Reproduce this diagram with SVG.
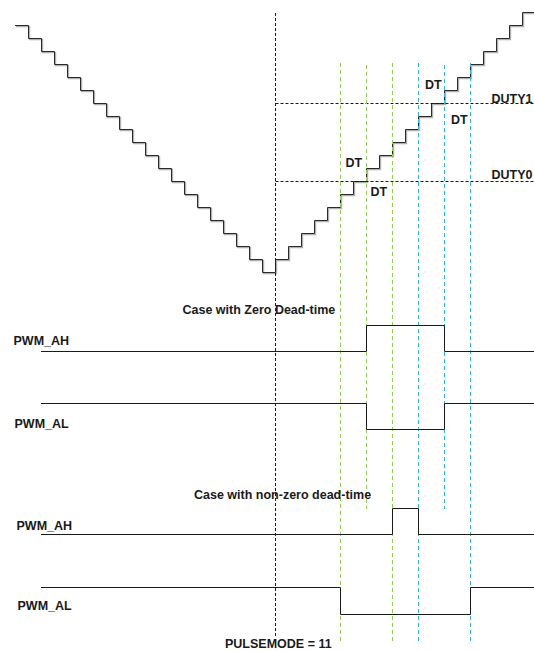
<svg xmlns="http://www.w3.org/2000/svg" width="534" height="651" viewBox="0 0 534 651">
<style>
text{font-family:"Liberation Sans",Arial,sans-serif;font-weight:bold;font-size:12.5px;fill:#1a1a1a}
.sig{fill:none;stroke:#1a1a1a;stroke-width:1}
.stair{fill:none;stroke:#2a2a2a;stroke-width:1}
.shadow{fill:none;stroke:#b0b0b0;stroke-width:1.4}
.bd{stroke:#1a1a1a;stroke-width:1;stroke-dasharray:3 2;fill:none}
.gd{stroke:#8fd14f;stroke-width:1;stroke-dasharray:4 3;fill:none}
.cd{stroke:#2bb8ec;stroke-width:1;stroke-dasharray:4 3;fill:none}
</style>
<rect width="534" height="651" fill="#fff"/>
<g id="counter">
<path class="shadow" transform="translate(1,1)" d="M15,25.5H28.5 v13h13 v13h13 v13h13 v13h13 v13h13 v13h13 v13h13 v13h13 v13h13 v13h13 v13h13 v13h13 v13h13 v13h13 v13h13 v13h13 v13h13 v13h13 v13h13 v-13h13 v-13h13 v-13h13 v-13h13 v-13h13 v-13h13 v-13h13 v-13h13 v-13h13 v-13h13 v-13h13 v-13h13 v-13h13 v-13h13 v-13h13 v-13h13 v-13h13 v-13h13 v-13h13 v-13H534"/>
<path class="stair" d="M15,25.5H28.5 v13h13 v13h13 v13h13 v13h13 v13h13 v13h13 v13h13 v13h13 v13h13 v13h13 v13h13 v13h13 v13h13 v13h13 v13h13 v13h13 v13h13 v13h13 v13h13 v-13h13 v-13h13 v-13h13 v-13h13 v-13h13 v-13h13 v-13h13 v-13h13 v-13h13 v-13h13 v-13h13 v-13h13 v-13h13 v-13h13 v-13h13 v-13h13 v-13h13 v-13h13 v-13h13 v-13H534"/>
</g>
<g id="guides">
<line class="bd" x1="275.5" y1="13" x2="275.5" y2="636"/>
<line class="bd" x1="275.5" y1="103.5" x2="534" y2="103.5"/>
<line class="bd" x1="275.5" y1="181.5" x2="534" y2="181.5"/>
<line class="gd" x1="340.5" y1="63" x2="340.5" y2="641"/>
<line class="gd" x1="366.5" y1="65" x2="366.5" y2="509"/>
<line class="gd" x1="392.5" y1="63" x2="392.5" y2="641"/>
<line class="cd" x1="418.5" y1="63" x2="418.5" y2="641"/>
<line class="cd" x1="444.5" y1="65" x2="444.5" y2="509"/>
<line class="cd" x1="470.5" y1="63" x2="470.5" y2="641"/>
</g>
<g id="signals">
<path id="pwm_ah_zero" class="sig" d="M41,351.5H366.5V325.5H444.5V351.5H534"/>
<path id="pwm_al_zero" class="sig" d="M41,403.5H366.5V429.5H444.5V403.5H534"/>
<path id="pwm_ah_dt" class="sig" d="M41,534.5H392.5V508.5H418.5V534.5H534"/>
<path id="pwm_al_dt" class="sig" d="M41,587.5H340.5V614.5H470.5V587.5H534"/>
</g>
<g id="labels">
<text x="491.5" y="102.5">DUTY1</text>
<text x="491.5" y="178.5">DUTY0</text>
<text x="345.5" y="166.5">DT</text>
<text x="370.5" y="196">DT</text>
<text x="425" y="88.5">DT</text>
<text x="451" y="124">DT</text>
<text x="182.5" y="314">Case with Zero Dead-time</text>
<text x="13.5" y="345">PWM_AH</text>
<text x="14.5" y="428">PWM_AL</text>
<text x="194" y="499">Case with non-zero dead-time</text>
<text x="16.5" y="530">PWM_AH</text>
<text x="17.5" y="610">PWM_AL</text>
<text x="225" y="648">PULSEMODE = 11</text>
</g>
</svg>
